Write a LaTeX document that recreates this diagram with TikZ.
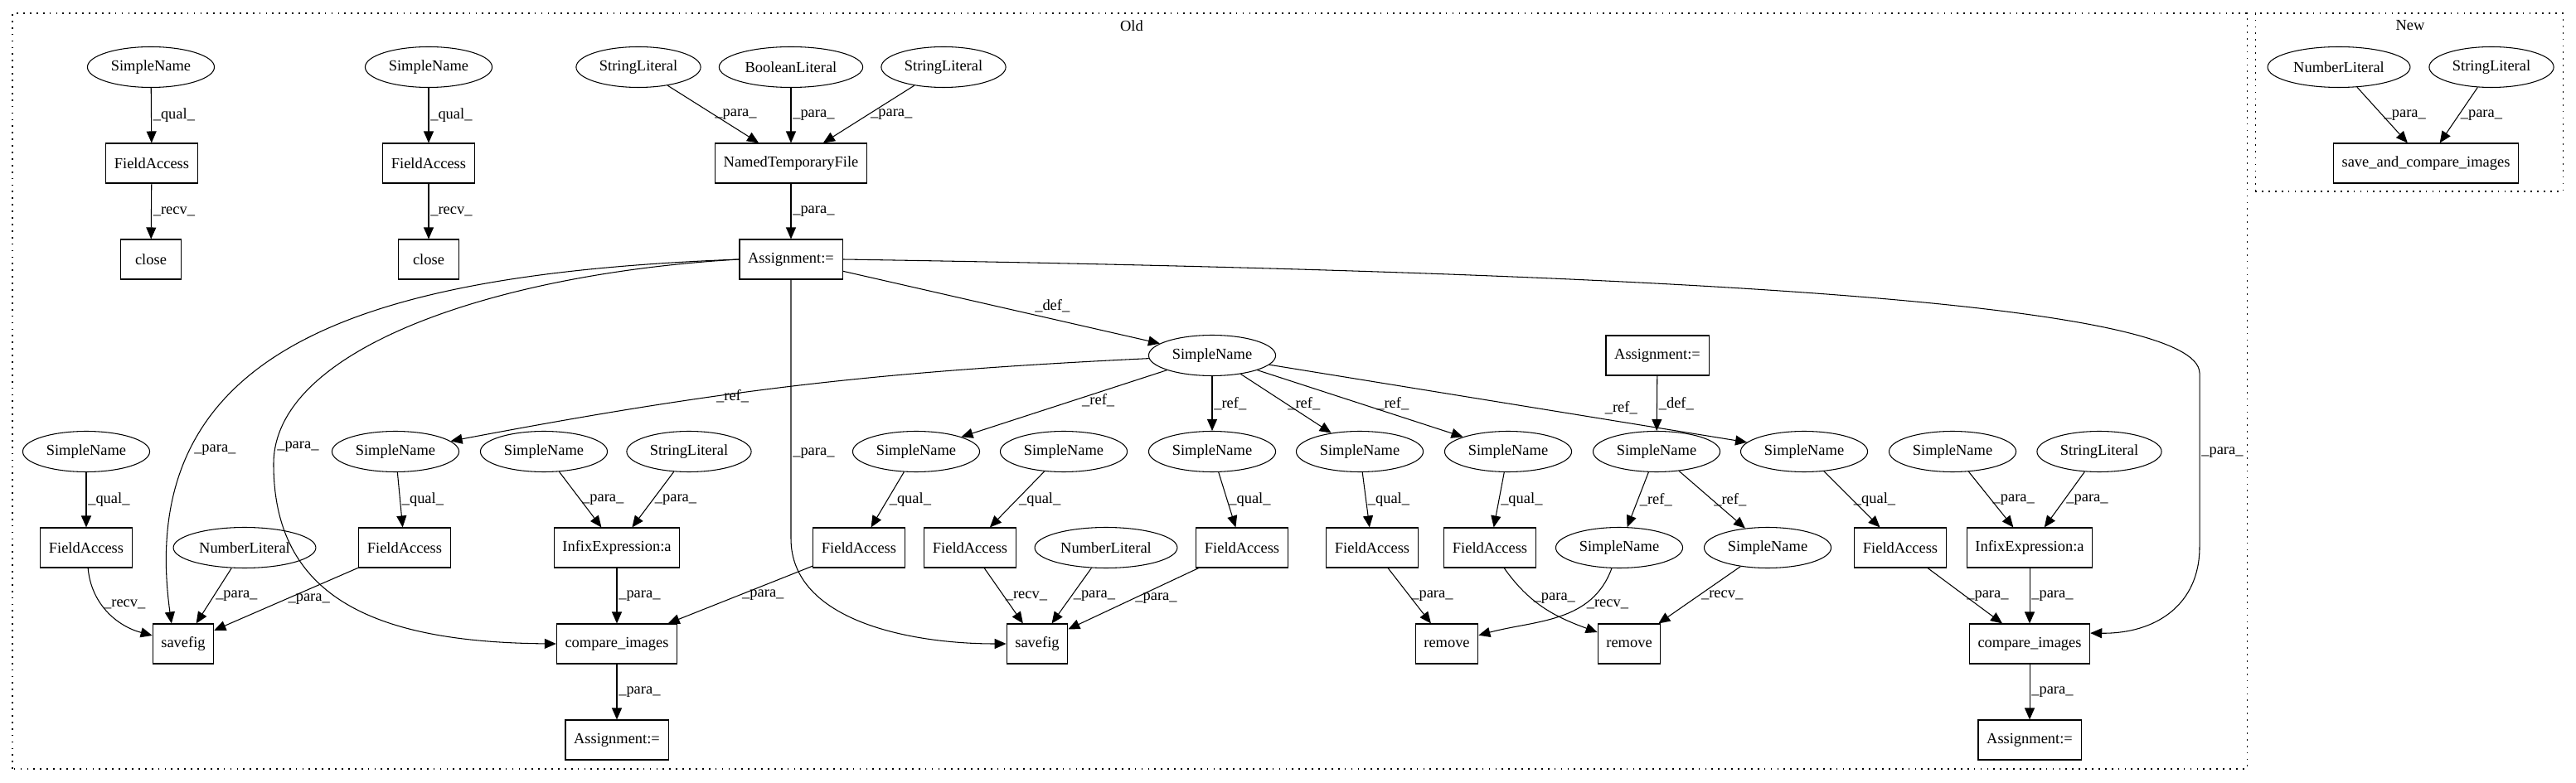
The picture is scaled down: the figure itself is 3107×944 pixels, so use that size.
\documentclass[tikz,border=0pt]{standalone}
\usepackage{fontspec}
\setmainfont{Liberation Serif}
\usepackage{tikz}
\usetikzlibrary{shapes, arrows.meta, positioning, calc}

\begin{document}
\begin{tikzpicture}[x=0.02cm, y=0.02cm, line width=0.6pt,
  font=\fontsize{10.5}{12}\selectfont,
  box/.style={draw, rectangle, minimum width=1.46cm, minimum height=0.96cm, inner xsep=5.8pt, inner ysep=1pt},
  oval/.style={draw, ellipse, minimum height=0.98cm, inner xsep=3.4pt, inner ysep=0pt},
  arr/.style={-{Triangle[length=0.28cm, width=0.24cm]}},
  lbl/.style={right, inner sep=1pt},
  cluster/.style={dash pattern=on 1pt off 3.5pt}]
\useasboundingbox (0,0) rectangle (3107,944);

% Old cluster
\draw[cluster] (15,16) rectangle (2710,928);
\node (oldTitle) at (1365,913) {Old};

\node[oval] (snTopA) at (182,863) {SimpleName};
\node[oval] (snTopB) at (517,863) {SimpleName};
\node[oval] (strLitA) at (770,863) {StringLiteral};
\node[oval] (boolLit) at (954,863) {BooleanLiteral};
\node[oval] (strLitB) at (1138,863) {StringLiteral};

\node[box] (faTopA) at (183,747) {FieldAccess};
\node[box] (faTopB) at (517,747) {FieldAccess};
\node[box] (ntf) at (954,747) {NamedTemporaryFile};

\node[box] (closeA) at (182,631) {close};
\node[box] (closeB) at (517,631) {close};
\node[box] (asgTop) at (954,631) {Assignment:=};

\node[oval] (snDef) at (1462,515) {SimpleName};
\node[box] (asgMid) at (1999,515) {Assignment:=};

\node[oval] (sn1) at (104,399) {SimpleName};
\node[oval] (sn2) at (477,399) {SimpleName};
\node[oval] (sn3) at (656,399) {SimpleName};
\node[oval] (strLit1) at (831,399) {StringLiteral};
\node[oval] (sn4) at (1105,399) {SimpleName};
\node[oval] (sn5) at (1283,399) {SimpleName};
\node[oval] (sn6) at (1462,399) {SimpleName};
\node[oval] (sn7) at (1640,399) {SimpleName};
\node[oval] (sn8) at (1819,399) {SimpleName};
\node[oval] (sn9) at (1998,399) {SimpleName};
\node[oval] (sn10) at (2176,399) {SimpleName};
\node[oval] (sn11) at (2355,399) {SimpleName};
\node[oval] (strLit2) at (2532,399) {StringLiteral};

\node[box] (fa1) at (104,283) {FieldAccess};
\node[oval] (numLit1) at (295,283) {NumberLiteral};
\node[box] (fa2) at (488,283) {FieldAccess};
\node[box] (infix1) at (744,283) {InfixExpression:a};
\node[box] (fa3) at (1036,283) {FieldAccess};
\node[box] (fa4) at (1170,283) {FieldAccess};
\node[oval] (numLit2) at (1334,283) {NumberLiteral};
\node[box] (fa5) at (1498,283) {FieldAccess};
\node[box] (fa6) at (1655,283) {FieldAccess};
\node[box] (fa7) at (1797,283) {FieldAccess};
\node[oval] (sn12) at (1953,283) {SimpleName};
\node[oval] (sn13) at (2132,283) {SimpleName};
\node[box] (fa8) at (2292,283) {FieldAccess};
\node[box] (infix2) at (2448,283) {InfixExpression:a};

\node[box] (save1) at (221,167) {savefig};
\node[box] (cmp1) at (744,167) {compare\_images};
\node[box] (save2) at (1251,167) {savefig};
\node[box] (rem1) at (1745,167) {remove};
\node[box] (rem2) at (1965,167) {remove};
\node[box] (cmp2) at (2448,167) {compare\_images};

\node[box] (asg1) at (744,51) {Assignment:=};
\node[box] (asg2) at (2448,51) {Assignment:=};

\draw[arr] (snTopA) -- node[lbl] {\_qual\_} (faTopA);
\draw[arr] (faTopA) -- node[lbl] {\_recv\_} (closeA);
\draw[arr] (snTopB) -- node[lbl] {\_qual\_} (faTopB);
\draw[arr] (faTopB) -- node[lbl] {\_recv\_} (closeB);
\draw[arr] (strLitA) -- node[lbl] {\_para\_} (ntf);
\draw[arr] (boolLit) -- node[lbl] {\_para\_} (ntf);
\draw[arr] (strLitB) -- node[lbl] {\_para\_} (ntf);
\draw[arr] (ntf) -- node[lbl] {\_para\_} (asgTop);

% edges leaving the first assignment
\draw[arr] (asgTop) -- node[lbl, pos=0.6, anchor=south west] {\_def\_} (snDef);
\draw[arr] (asgTop.west) .. controls (450,614) and (160,530) .. node[lbl, pos=0.75] {\_para\_} (save1.120);
\draw[arr] (asgTop.west) .. controls (600,614) and (330,524) .. node[lbl, pos=0.95] {\_para\_} (330,384)
  .. controls (330,224) and (450,169) .. (cmp1.west);
\draw[arr] (asgTop.south) -- node[lbl, pos=0.67] {\_para\_} (954,294)
  .. controls (954,194) and (1100,167) .. (save2.west);
\draw[arr] (asgTop.east) .. controls (2100,614) and (2650,574) .. (2653,494)
  -- node[lbl, pos=0.46] {\_para\_} (2653,284) .. controls (2653,214) and (2600,179) .. (cmp2.10);

\draw[arr] (snDef) to[bend right=4] node[lbl, pos=0.63] {\_ref\_} (sn2);
\draw[arr] (snDef) -- node[lbl, pos=0.45, xshift=4pt] {\_ref\_} (sn4);
\draw[arr] (snDef) -- node[lbl] {\_ref\_} (sn6);
\draw[arr] (snDef) -- node[lbl] {\_ref\_} (sn7);
\draw[arr] (snDef) -- node[lbl, xshift=10pt] {\_ref\_} (sn8);
\draw[arr] (snDef) -- node[lbl, pos=0.56, xshift=1.6cm] {\_ref\_} (sn10);
\draw[arr] (asgMid) -- node[lbl] {\_def\_} (sn9);

\draw[arr] (sn1) -- node[lbl] {\_qual\_} (fa1);
\draw[arr] (sn2) -- node[lbl] {\_qual\_} (fa2);
\draw[arr] (sn3) -- node[lbl] {\_para\_} (infix1);
\draw[arr] (strLit1) -- node[lbl] {\_para\_} (infix1);
\draw[arr] (sn4) -- node[lbl] {\_qual\_} (fa3);
\draw[arr] (sn5) -- node[lbl] {\_qual\_} (fa4);
\draw[arr] (sn6) -- node[lbl] {\_qual\_} (fa5);
\draw[arr] (sn7) -- node[lbl] {\_qual\_} (fa6);
\draw[arr] (sn8) -- node[lbl] {\_qual\_} (fa7);
\draw[arr] (sn9) -- node[lbl] {\_ref\_} (sn12);
\draw[arr] (sn9) -- node[lbl] {\_ref\_} (sn13);
\draw[arr] (sn10) -- node[lbl] {\_qual\_} (fa8);
\draw[arr] (sn11) -- node[lbl] {\_para\_} (infix2);
\draw[arr] (strLit2) -- node[lbl] {\_para\_} (infix2);

\draw[arr] (fa1) to[out=-85, in=165] node[lbl, pos=0.4] {\_recv\_} (save1);
\draw[arr] (numLit1) -- node[lbl] {\_para\_} (save1);
\draw[arr] (fa2) -- node[lbl] {\_para\_} (save1);
\draw[arr] (infix1) -- node[lbl] {\_para\_} (cmp1);
\draw[arr] (fa3) -- node[lbl] {\_para\_} (cmp1);
\draw[arr] (fa4) -- node[lbl] {\_recv\_} (save2);
\draw[arr] (numLit2) -- node[lbl] {\_para\_} (save2);
\draw[arr] (fa5) -- node[lbl] {\_para\_} (save2);
\draw[arr] (fa6) -- node[lbl] {\_para\_} (rem1);
\draw[arr] (fa7) to[out=-55, in=160] node[lbl, pos=0.35] {\_para\_} (rem2);
\draw[arr] (sn12) to[out=-110, in=15] node[lbl, pos=0.3] {\_recv\_} (rem1);
\draw[arr] (sn13) -- node[lbl] {\_recv\_} (rem2);
\draw[arr] (fa8) -- node[lbl] {\_para\_} (cmp2);
\draw[arr] (infix2) -- node[lbl] {\_para\_} (cmp2);

\draw[arr] (cmp1) -- node[lbl] {\_para\_} (asg1);
\draw[arr] (cmp2) -- node[lbl] {\_para\_} (asg2);

% New cluster
\draw[cluster] (2720,713) rectangle (3091,928);
\node (newTitle) at (2907,913) {New};
\node[oval] (numNew) at (2821,863) {NumberLiteral};
\node[oval] (strNew) at (3005,863) {StringLiteral};
\node[box] (saveCmp) at (2926,747) {save\_and\_compare\_images};
\draw[arr] (numNew) -- node[lbl] {\_para\_} (saveCmp);
\draw[arr] (strNew) -- node[lbl] {\_para\_} (saveCmp);
\end{tikzpicture}
\end{document}
